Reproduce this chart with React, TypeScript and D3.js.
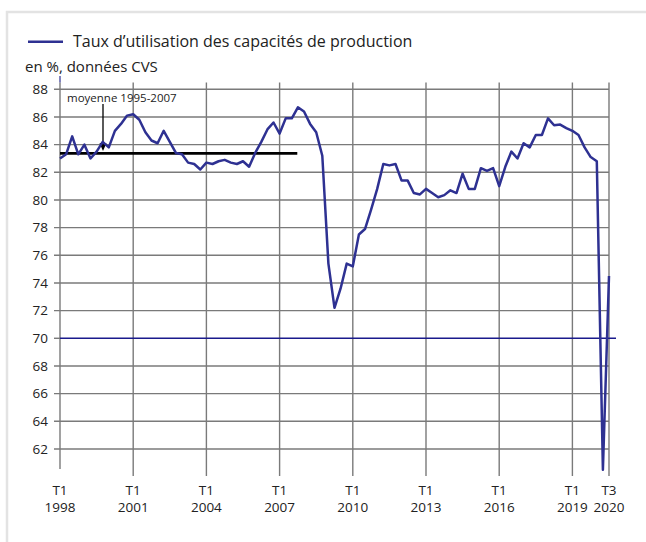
import React from "react";
import * as d3 from "d3";

// Quarterly series, 1998 T1 .. 2020 T3 (index 0 = 1998 T1)
const tuc: number[] = [
  83.0, 83.3, 84.6, 83.3, 84.0, 83.0, 83.5, 84.2, 83.8, 85.0,
  85.5, 86.1, 86.2, 85.8, 84.9, 84.3, 84.1, 85.0, 84.2, 83.4,
  83.3, 82.7, 82.6, 82.2, 82.7, 82.6, 82.8, 82.9, 82.7, 82.6,
  82.8, 82.4, 83.4, 84.2, 85.1, 85.6, 84.8, 85.9, 85.9, 86.7,
  86.4, 85.5, 84.9, 83.2, 75.4, 72.2, 73.6, 75.4, 75.2, 77.5,
  77.9, 79.3, 80.8, 82.6, 82.5, 82.6, 81.4, 81.4, 80.5, 80.4,
  80.8, 80.5, 80.2, 80.35, 80.7, 80.5, 81.9, 80.8, 80.8, 82.3,
  82.1, 82.3, 81.0, 82.4, 83.5, 83.0, 84.1, 83.8, 84.7, 84.7,
  85.9, 85.4, 85.45, 85.2, 85.0, 84.7, 83.8, 83.1, 82.8, 60.5,
  74.5,
];

const yTicks: number[] = [62, 64, 66, 68, 70, 72, 74, 76, 78, 80, 82, 84, 86, 88];
// x ticks: quarter index and labels
const xTickIdx: number[] = [0, 12, 24, 36, 48, 60, 72, 84, 90];
const xTickTop: string[] = ["T1", "T1", "T1", "T1", "T1", "T1", "T1", "T1", "T3"];
const xTickBottom: string[] = ["1998", "2001", "2004", "2007", "2010", "2013", "2016", "2019", "2020"];

const meanValue = 83.37;
const meanStartIdx = 0;
const meanEndIdx = 38.9;
const refValue = 70;

const legendLabel = "Taux d\u2019utilisation des capacités de production";
const unitLabel = "en %, données CVS";
const annotation = "moyenne 1995-2007";

const FONT = "'Open Sans', 'Noto Sans', sans-serif";
const BLUE = "#2e3192";
const GRID = "#7a7a7a";

export default function App() {
  const x = d3.scaleLinear().domain([0, 90]).range([60, 609]);
  const y = d3.scaleLinear().domain([60, 88.5]).range([476.6, 82.4]);

  const line = d3
    .line<number>()
    .x((_, i) => x(i))
    .y((d) => y(d));

  const xLeft = x(0);
  const xRight = x(90);

  const annX = 103;

  return (
    <svg
      width={646}
      height={542}
      style={{ position: "absolute", left: 0, top: 0, background: "#fff" }}
      fontFamily={FONT}
    >
      {/* frame */}
      <rect x={7} y={12} width={700} height={600} fill="none" stroke="#e3e3e3" strokeWidth={2.5} />

      {/* legend */}
      <line x1={28} x2={63} y1={41.7} y2={41.7} stroke={BLUE} strokeWidth={2.5} />
      <text x={73} y={47} fontSize={16} fill="#222">
        {legendLabel}
      </text>
      <text x={25} y={72} fontSize={15} fill="#222">
        {unitLabel}
      </text>

      {/* horizontal grid + y ticks */}
      {yTicks.map((t) => (
        <g key={t}>
          <line
            x1={54}
            x2={t === refValue ? xLeft : xRight}
            y1={y(t)}
            y2={y(t)}
            stroke={GRID}
            strokeWidth={1.4}
          />
          <text x={48} y={y(t) + 4.8} fontSize={13.5} textAnchor="end" fill="#222">
            {t}
          </text>
        </g>
      ))}

      {/* vertical grid */}
      {xTickIdx.map((q, i) => (
        <g key={q}>
          <line
            x1={x(q)}
            x2={x(q)}
            y1={y(88.5)}
            y2={i === 0 ? 469 : 476}
            stroke={GRID}
            strokeWidth={1.4}
          />
          <text x={x(q)} y={495} fontSize={13.5} textAnchor="middle" fill="#222">
            {xTickTop[i]}
          </text>
          <text x={x(q)} y={512} fontSize={13.5} textAnchor="middle" fill="#222">
            {xTickBottom[i]}
          </text>
        </g>
      ))}
      <line x1={xLeft} x2={xLeft} y1={76} y2={82.4} stroke={BLUE} strokeWidth={1.2} />

      {/* reference line 70 */}
      <line x1={xLeft} x2={616} y1={y(refValue)} y2={y(refValue)} stroke="#1a1a8c" strokeWidth={1.4} />

      {/* mean line */}
      <line
        x1={x(meanStartIdx)}
        x2={x(meanEndIdx)}
        y1={y(meanValue)}
        y2={y(meanValue)}
        stroke="#000"
        strokeWidth={2.6}
      />

      {/* annotation */}
      <text x={67} y={101.5} fontSize={11.5} fill="#222">
        {annotation}
      </text>
      <line x1={annX} x2={annX} y1={104} y2={145} stroke="#000" strokeWidth={1.3} />
      <path d={`M${annX - 3.5},${143} L${annX + 3.5},${143} L${annX},${151} Z`} fill="#000" />

      {/* series */}
      <path d={line(tuc) || ""} fill="none" stroke={BLUE} strokeWidth={2.5} strokeLinejoin="round" />
    </svg>
  );
}
